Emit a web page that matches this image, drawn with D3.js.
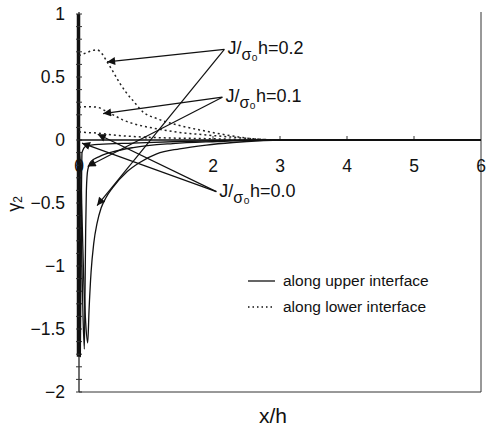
<!DOCTYPE html>
<html>
<head>
<meta charset="utf-8">
<script src="https://cdn.jsdelivr.net/npm/d3@7"></script>
<style>
  body { margin: 0; background: #fff; }
  text { font-family: "Liberation Sans", Arial, sans-serif; fill: #111; }
</style>
</head>
<body>
<div id="chart"></div>
<script>
// gamma_2 along the interfaces
var upper00 = [[0,-0.03],[0.01,-0.6],[0.02,-1.72],[0.03,-0.9],[0.045,-0.1],[0.1,-0.05],[0.3,-0.035],[0.8,-0.025],[1.5,-0.012],[2.2,-0.004],[2.8,0],[6,0]];
var upper01 = [[0,-0.05],[0.02,-0.4],[0.04,-0.9],[0.06,-1.4],[0.08,-1.66],[0.09,-1.2],[0.1,-0.7],[0.11,-0.4],[0.13,-0.24],[0.18,-0.17],[0.31,-0.13],[0.5,-0.095],[0.81,-0.06],[1.4,-0.028],[2.06,-0.012],[2.6,-0.002],[3,0],[6,0]];
var upper02 = [[0,-0.05],[0.03,-0.3],[0.05,-0.7],[0.07,-1.1],[0.1,-1.45],[0.13,-1.61],[0.15,-1.35],[0.18,-1.05],[0.22,-0.82],[0.27,-0.66],[0.33,-0.54],[0.4,-0.46],[0.5,-0.38],[0.72,-0.25],[0.9,-0.18],[1.16,-0.11],[1.5,-0.07],[1.9,-0.04],[2.3,-0.02],[2.7,-0.006],[3,0],[6,0]];
var lower00 = [[0,0.065],[0.1,0.06],[0.27,0.055],[0.5,0.04],[0.8,0.028],[1.2,0.018],[1.8,0.012],[2.2,0.007],[2.6,0.002],[3,0],[6,0]];
var lower01 = [[0,0.26],[0.12,0.265],[0.27,0.26],[0.4,0.23],[0.51,0.2],[0.65,0.16],[0.81,0.13],[1.1,0.095],[1.46,0.063],[1.9,0.04],[2.3,0.022],[2.7,0.006],[3,0],[6,0]];
var lower02 = [[0,0.67],[0.1,0.69],[0.2,0.71],[0.27,0.715],[0.35,0.68],[0.42,0.62],[0.5,0.55],[0.61,0.45],[0.7,0.38],[0.81,0.31],[0.96,0.22],[1.16,0.17],[1.46,0.12],[1.8,0.08],[2.2,0.04],[2.5,0.015],[2.8,0.003],[3,0],[6,0]];

var xTicks = [0, 2, 3, 4, 5, 6];
var xTickMarks = [1, 2, 3, 4, 5];
var yTicks = [1, 0.5, 0, -0.5, -1, -1.5, -2];
var yMinor = d3.range(-20, 11).map(function(d){ return d / 10; });

// label anchor, arrow to lower (dotted) curve, arrow to upper (solid) curve
var notes = [
  {val: "0.2", at: [2.17, 0.72], tips: [[0.42, 0.62], [0.27, -0.52]]},
  {val: "0.1", at: [2.14, 0.34], tips: [[0.36, 0.21], [0.13, -0.21]]},
  {val: "0.0", at: [2.05, -0.41], tips: [[0.28, 0.045], [0.045, -0.025]]}
];

var W = 486, H = 428;
var x = d3.scaleLinear().domain([0, 6]).range([79, 481]);
var y = d3.scaleLinear().domain([-2, 1]).range([392, 14]);

var svg = d3.select("#chart").append("svg")
  .attr("width", W).attr("height", H);

svg.append("defs").append("marker")
  .attr("id", "ah").attr("viewBox", "0 0 10 10")
  .attr("refX", 10).attr("refY", 5)
  .attr("markerWidth", 12).attr("markerHeight", 8)
  .attr("markerUnits", "userSpaceOnUse")
  .attr("orient", "auto")
  .append("path").attr("d", "M0,0 L10,5 L0,10 Z").attr("fill", "#111");

// frame: bottom and right
svg.append("line").attr("x1", x(0)).attr("x2", x(6)).attr("y1", y(-2)).attr("y2", y(-2))
  .attr("stroke", "#333").attr("stroke-width", 1);
svg.append("line").attr("x1", x(6)).attr("x2", x(6)).attr("y1", y(1) - 2).attr("y2", y(-2))
  .attr("stroke", "#333").attr("stroke-width", 1);

// y axis
svg.append("line").attr("x1", x(0)).attr("x2", x(0)).attr("y1", y(1) - 2).attr("y2", y(-2))
  .attr("stroke", "#111").attr("stroke-width", 1.2);
svg.append("line").attr("x1", x(0) - 0.5).attr("x2", x(0) - 0.5).attr("y1", y(1)).attr("y2", y(-1.72))
  .attr("stroke", "#111").attr("stroke-width", 3.5);
svg.selectAll(".ymin").data(yMinor).enter().append("line")
  .attr("x1", x(0) - 3).attr("x2", x(0) + 3)
  .attr("y1", function(d){ return y(d); }).attr("y2", function(d){ return y(d); })
  .attr("stroke", "#333").attr("stroke-width", 1);
svg.selectAll(".ylab").data(yTicks).enter().append("text")
  .attr("x", x(0) - 14).attr("y", function(d){ return y(d) + 6; })
  .attr("text-anchor", "end").attr("font-size", 17.5)
  .text(function(d){ return d < 0 ? "\u2212" + Math.abs(d) : d; });

// x axis along zero line
svg.append("line").attr("x1", x(0)).attr("x2", x(6)).attr("y1", y(0)).attr("y2", y(0))
  .attr("stroke", "#111").attr("stroke-width", 1.3);
svg.selectAll(".xt").data(xTickMarks).enter().append("line")
  .attr("x1", function(d){ return x(d); }).attr("x2", function(d){ return x(d); })
  .attr("y1", y(0)).attr("y2", y(0) - 4)
  .attr("stroke", "#333");
svg.selectAll(".xlab").data(xTicks).enter().append("text")
  .attr("x", function(d){ return x(d); }).attr("y", y(0) + 32)
  .attr("text-anchor", "middle").attr("font-size", 17.5)
  .text(function(d){ return d; });

// curves
var line = d3.line()
  .x(function(d){ return x(d[0]); })
  .y(function(d){ return y(d[1]); })
  .curve(d3.curveMonotoneX);

[lower00, lower01, lower02].forEach(function(s){
  svg.append("path").datum(s).attr("d", line)
    .attr("fill", "none").attr("stroke", "#222").attr("stroke-width", 1.5)
    .attr("stroke-dasharray", "2,3");
});
[upper00, upper01, upper02].forEach(function(s){
  svg.append("path").datum(s).attr("d", line)
    .attr("fill", "none").attr("stroke", "#111").attr("stroke-width", 1.3);
});

// annotations
notes.forEach(function(n){
  n.tips.forEach(function(t){
    svg.append("line")
      .attr("x1", x(n.at[0])).attr("y1", y(n.at[1]))
      .attr("x2", x(t[0])).attr("y2", y(t[1]))
      .attr("stroke", "#111").attr("stroke-width", 1.2)
      .attr("marker-end", "url(#ah)");
  });
  var t = svg.append("text")
    .attr("x", x(n.at[0]) + 3).attr("y", y(n.at[1]) + 5)
    .attr("font-size", 18);
  t.append("tspan").text("J/");
  t.append("tspan").attr("dy", 6).attr("font-size", 16).text("\u03c3\u2080");
  t.append("tspan").attr("dy", -6).text("h=" + n.val);
});

// axis titles
svg.append("text")
  .attr("transform", "translate(" + 20 + "," + 204 + ") rotate(-90)")
  .attr("text-anchor", "middle").attr("font-size", 18)
  .html("\u03b3<tspan font-size='12' dy='2'>2</tspan>");
svg.append("text")
  .attr("x", 273).attr("y", 423).attr("text-anchor", "middle").attr("font-size", 21)
  .text("x/h");

// legend
var legend = [
  {label: "along upper interface", dash: null},
  {label: "along lower interface", dash: "1.5,3"}
];
legend.forEach(function(l, i){
  var ly = 281 + i * 26;
  svg.append("line").attr("x1", 248).attr("x2", 275).attr("y1", ly).attr("y2", ly)
    .attr("stroke", "#111").attr("stroke-width", 1.3)
    .attr("stroke-dasharray", l.dash);
  svg.append("text").attr("x", 283).attr("y", ly + 5).attr("font-size", 15.5)
    .text(l.label);
});
</script>
</body>
</html>
